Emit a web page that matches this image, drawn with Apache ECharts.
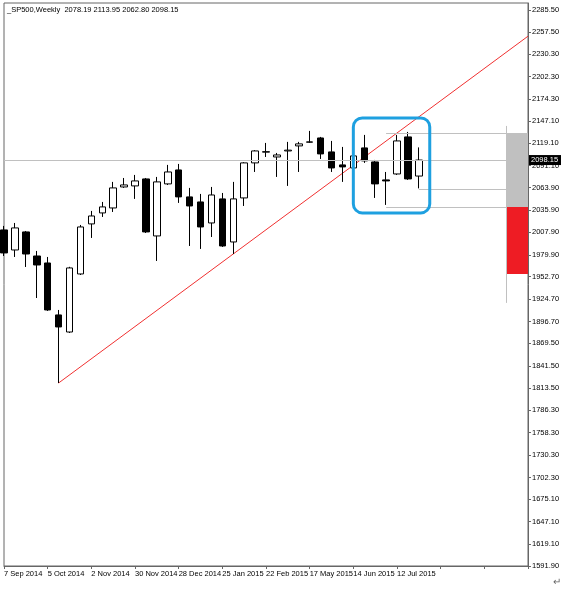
<!DOCTYPE html>
<html><head><meta charset="utf-8">
<script src="https://cdn.jsdelivr.net/npm/echarts@6/dist/echarts.min.js"></script>
<style>html,body{margin:0;padding:0;background:#fff}#c{width:564px;height:590px}</style>
</head><body><div id="c"></div>
<script>
const tickLabels = ['7 Sep 2014','5 Oct 2014','2 Nov 2014','30 Nov 2014','28 Dec 2014','25 Jan 2015','22 Feb 2015','17 May 2015','14 Jun 2015','12 Jul 2015'];
const totalSlots = 49;
// [open, close, low, high]
const ohlc = [
 [2011.0,1982.3,1978.5,2016.0],
 [1986.0,2013.5,1977.3,2019.7],
 [2008.5,1981.0,1964.8,2009.7],
 [1978.5,1967.3,1926.1,1984.8],
 [1969.8,1911.2,1910.0,1977.3],
 [1905.0,1890.0,1820.1,1911.2],
 [1883.7,1963.6,1882.5,1965.0],
 [1956.1,2014.7,1954.8,2017.2],
 [2018.5,2028.4,2001.0,2034.7],
 [2032.2,2039.7,2027.2,2045.9],
 [2038.4,2063.4,2033.4,2070.9],
 [2064.6,2067.1,2063.4,2075.8],
 [2065.9,2072.1,2049.7,2079.6],
 [2074.6,2008.5,2007.2,2075.8],
 [2003.5,2070.9,1972.3,2077.1],
 [2068.4,2083.3,2067.0,2092.1],
 [2085.8,2052.2,2044.7,2093.3],
 [2052.2,2040.9,1991.0,2063.4],
 [2045.9,2014.7,1987.3,2055.9],
 [2019.7,2054.6,2002.2,2064.6],
 [2049.7,1991.0,1989.8,2057.1],
 [1996.0,2049.7,1981.0,2070.9],
 [2050.9,2094.6,2040.9,2095.5],
 [2094.6,2109.5,2083.3,2110.5],
 [2108.0,2108.6,2102.0,2119.5],
 [2102.0,2104.5,2077.1,2107.0],
 [2109.5,2110.5,2065.9,2120.8],
 [2115.8,2118.3,2083.3,2120.8],
 [2120.4,2120.8,2119.5,2134.5],
 [2125.7,2105.8,2099.5,2127.0],
 [2108.3,2088.3,2083.3,2122.0],
 [2092.1,2089.6,2070.9,2114.5],
 [2088.3,2103.3,2070.9,2127.0],
 [2113.3,2097.1,2094.6,2129.5],
 [2095.8,2068.4,2050.9,2098.3],
 [2073.4,2072.1,2042.2,2083.3],
 [2080.8,2122.0,2079.6,2129.5],
 [2127.0,2074.6,2073.4,2133.2],
 [2078.19,2098.15,2062.80,2113.95]
];
const yTicks = [2285.50,2257.50,2230.30,2202.30,2174.30,2147.10,2119.10,2091.10,2063.90,2035.90,2007.90,1979.90,1952.70,1924.70,1896.70,1869.50,1841.50,1813.50,1786.30,1758.30,1730.30,1702.30,1675.10,1647.10,1619.10,1591.90];
const trendLine = [[5,1820.1],[48,2252.6]];
const lastPrice = 2098.15;
const levels = {high:2132.0, mid:2062.2, low:2039.7, bottom:1956.1, vTop:2140.7, vBot:1920.0};
const boxRange = {x0:31.8, x1:38.8, y0:2150.7, y1:2032.2};
const title = '_SP500,Weekly  2078.19 2113.95 2062.80 2098.15';

const categories = [];
for (let i=0;i<totalSlots;i++) categories.push(i%4===0 && tickLabels[i/4] ? tickLabels[i/4] : 'w'+i);
const F = 'Liberation Sans';
const chart = echarts.init(document.getElementById('c'));
const grey = '#c0c0c0';
chart.setOption({
  animation:false,
  grid:{left:4,right:36,top:3,bottom:24,show:true,borderColor:'#666',borderWidth:1},
  xAxis:{type:'category',data:categories,boundaryGap:false,
    axisLine:{lineStyle:{color:'#666'}},
    axisTick:{show:true,interval:3,length:3,lineStyle:{color:'#666'}},
    axisLabel:{interval:3,align:'left',fontFamily:F,fontSize:7.5,color:'#000',margin:4,
      formatter:v=>v.startsWith('w')?'':v},
    splitLine:{show:false}},
  yAxis:{type:'value',position:'right',min:1591.9,max:2294,scale:true,
    axisLine:{show:true,lineStyle:{color:'#666'}},
    axisTick:{show:true,length:3,customValues:yTicks,lineStyle:{color:'#666'}},
    axisLabel:{customValues:yTicks,fontFamily:F,fontSize:7.5,color:'#000',margin:4,formatter:v=>v.toFixed(2)},
    splitLine:{show:false}},
  series:[
    {type:'candlestick',data:ohlc,barWidth:7,
     itemStyle:{color:'#fff',color0:'#000',borderColor:'#000',borderColor0:'#000',borderWidth:1},
     markLine:{silent:true,symbol:'none',label:{show:false},animation:false,
       lineStyle:{color:grey,type:'solid',width:1},
       data:[
        {yAxis:lastPrice},
        [{coord:[35,levels.high]},{coord:[48,levels.high]}],
        [{coord:[38,levels.mid]},{coord:[48,levels.mid]}],
        [{coord:[35,levels.low]},{coord:[48,levels.low]}],
        [{coord:[46,levels.vTop]},{coord:[46,levels.vBot]}]
       ]}},
    {type:'line',data:trendLine,symbol:'none',lineStyle:{color:'#f03030',width:1},z:1}
  ]
});
function px(p){return chart.convertToPixel({gridIndex:0},p);}
const a=px([boxRange.x0,boxRange.y0]), b=px([boxRange.x1,boxRange.y1]);
const gTop=px([0,levels.high])[1], gMid=px([0,levels.low])[1], gBot=px([0,levels.bottom])[1];
const lp=px([0,lastPrice])[1];
const axisX = 564-36;
chart.setOption({graphic:[
  {type:'rect',shape:{x:a[0],y:a[1],width:b[0]-a[0],height:b[1]-a[1],r:9},style:{fill:'none',stroke:'#1EA0E0',lineWidth:3},z:10},
  {type:'rect',shape:{x:axisX-21,y:gTop,width:21,height:gMid-gTop},style:{fill:'#c0c0c0'},z:5},
  {type:'rect',shape:{x:axisX-21,y:gMid,width:21,height:gBot-gMid},style:{fill:'#ee1c24'},z:5},
  {type:'rect',shape:{x:axisX+1,y:lp-5,width:32,height:10},style:{fill:'#000'},z:20},
  {type:'text',x:axisX+3,y:lp-4,style:{text:lastPrice.toFixed(2),fill:'#fff',font:'7.5px '+F},z:21},
  {type:'text',x:7,y:6,style:{text:title,fill:'#000',font:'7.5px '+F},z:21},
  {type:'text',x:553,y:577,style:{text:'↵',fill:'#666',font:'10px '+F},z:21}
]});
</script></body></html>
